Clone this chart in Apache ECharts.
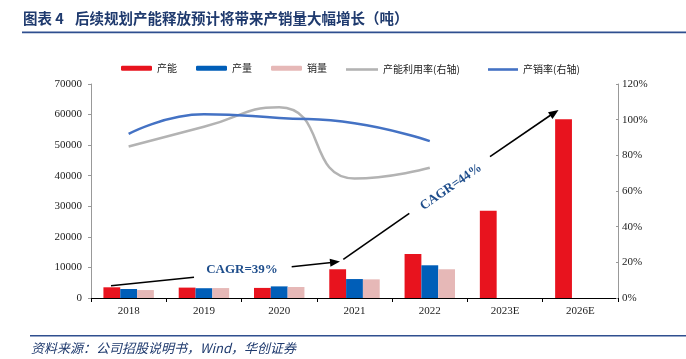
<!DOCTYPE html>
<html>
<head>
<meta charset="utf-8">
<script src="https://cdn.jsdelivr.net/npm/echarts@6/dist/echarts.min.js"></script>
<style>
html,body{margin:0;padding:0;background:#fff;}
#main{width:686px;height:359px;}
</style>
</head>
<body>
<div id="main"></div>
<script>
var categories = ['2018','2019','2020','2021','2022','2023E','2026E'];
var capacity = [3500, 3400, 3300, 9400, 14400, 28500, 58500];
var production = [2950, 3200, 3800, 6200, 10700, null, null];
var sales = [2600, 3250, 3600, 6100, 9400, null, null];
var utilization = [85, 96, 107, 67, 73, null, null];
var sellRate = [92, 103, 101, 98, 88, null, null];
var leftTicks = {min: 0, max: 70000, interval: 10000};
var rightTicks = {min: 0, max: 120, interval: 20};

var serif = '"Liberation Serif", "Times New Roman", serif';
var cjk = '"Noto Sans CJK SC", sans-serif';
var legendText = {fontFamily: cjk, fontSize: 10, color: '#222'};

function lg(name, left, w, isLine) {
  var o = {data: [name], left: left, top: isLine ? 64.5 : 63.3, itemWidth: w || 31, itemHeight: isLine ? 2.6 : 5, itemGap: 0, itemTextGap: 5, textStyle: legendText, selectedMode: false, padding: 0};
  if (isLine) o.icon = 'rect';
  return o;
}

var chart = echarts.init(document.getElementById('main'), null, {renderer: 'canvas'});
var option = {
  animation: false,
  backgroundColor: '#fff',
  grid: {left: 91, right: 68, top: 84, bottom: 61, containLabel: false},
  legend: [
    lg('产能', 121),
    lg('产量', 196),
    lg('销量', 271),
    lg('产能利用率(右轴)', 346, 32, true),
    lg('产销率(右轴)', 488, 30, true)
  ],
  xAxis: {
    type: 'category',
    data: categories,
    axisLine: {lineStyle: {color: '#000', width: 1.2}},
    axisTick: {show: true, inside: false, length: 4, lineStyle: {color: '#000'}},
    axisLabel: {fontFamily: serif, fontSize: 11, color: '#222', margin: 8}
  },
  yAxis: [
    {
      type: 'value', min: leftTicks.min, max: leftTicks.max, interval: leftTicks.interval,
      axisLine: {show: true, lineStyle: {color: '#999'}},
      axisTick: {show: true, length: 3, lineStyle: {color: '#999'}},
      splitLine: {show: false},
      axisLabel: {fontFamily: serif, fontSize: 11, color: '#222', margin: 9, formatter: function (v) { return String(v); }}
    },
    {
      type: 'value', min: rightTicks.min, max: rightTicks.max, interval: rightTicks.interval,
      position: 'right',
      axisLine: {show: true, lineStyle: {color: '#999'}},
      axisTick: {show: true, length: 2, inside: true, lineStyle: {color: '#999'}},
      splitLine: {show: false},
      axisLabel: {fontFamily: serif, fontSize: 11, color: '#222', margin: 4, formatter: '{value}%'}
    }
  ],
  series: [
    {name: '产能', type: 'bar', data: capacity, barGap: '0%', barCategoryGap: '33%', itemStyle: {color: '#E8131E'}},
    {name: '产量', type: 'bar', data: production, itemStyle: {color: '#005EB8'}},
    {name: '销量', type: 'bar', data: sales, itemStyle: {color: '#E6B8B7'}},
    {name: '产能利用率(右轴)', type: 'line', yAxisIndex: 1, data: utilization, smooth: 0.55, symbol: 'none',
      lineStyle: {color: '#B3B3B3', width: 2.5}, itemStyle: {color: '#B3B3B3'}},
    {name: '产销率(右轴)', type: 'line', yAxisIndex: 1, data: sellRate, smooth: 0.5, symbol: 'none',
      lineStyle: {color: '#4472C4', width: 2.5}, itemStyle: {color: '#4472C4'}}
  ],
  graphic: []
};
chart.setOption(option);

function arrowHead(x1, y1, x2, y2) {
  var a = Math.atan2(y2 - y1, x2 - x1), L = 10, W = 4;
  var bx = x2 - L * Math.cos(a), by = y2 - L * Math.sin(a);
  return {type: 'polygon', shape: {points: [[x2, y2], [bx + W * Math.sin(a), by - W * Math.cos(a)], [bx - W * Math.sin(a), by + W * Math.cos(a)]]}, style: {fill: '#000'}, z: 100};
}
function seg(x1, y1, x2, y2) {
  return {type: 'line', shape: {x1: x1, y1: y1, x2: x2, y2: y2}, style: {stroke: '#000', lineWidth: 1.6}, z: 100};
}
var navy = '#1F3A6E';
var g = [
  {type: 'text', left: 23, top: 11, style: {text: '图表 4', font: 'bold 14.5px ' + cjk, fill: navy}},
  {type: 'text', left: 75, top: 11, style: {text: '后续规划产能释放预计将带来产销量大幅增长（吨）', font: 'bold 14.5px ' + cjk, fill: navy}},
  {type: 'rect', shape: {x: 22, y: 31.5, width: 664, height: 1.8}, style: {fill: '#2F4F8F'}},
  {type: 'rect', shape: {x: 30, y: 335, width: 656, height: 1.6}, style: {fill: '#2F4F8F'}},
  {type: 'text', left: 31, top: 342, style: {text: '资料来源：公司招股说明书，Wind，华创证券', font: 'italic 13px ' + cjk, fill: navy}},
  seg(111, 285.7, 194, 277.3),
  seg(291.7, 266.7, 334, 262.2),
  arrowHead(291.7, 266.7, 340, 261.6),
  {type: 'text', x: 242, y: 270, style: {text: 'CAGR=39%', font: 'bold 13px ' + serif, fill: '#1F4E8C', align: 'center', verticalAlign: 'middle'}, z: 100},
  seg(343.3, 259.3, 409.3, 213.3),
  seg(490, 156.7, 553, 113.5),
  arrowHead(490, 156.7, 558.5, 110),
  {type: 'text', x: 451, y: 187, rotation: 0.606, style: {text: 'CAGR=44%', font: 'bold 13px ' + serif, fill: '#1F4E8C', align: 'center', verticalAlign: 'middle'}, z: 100}
];
chart.setOption({graphic: g});
</script>
</body>
</html>
